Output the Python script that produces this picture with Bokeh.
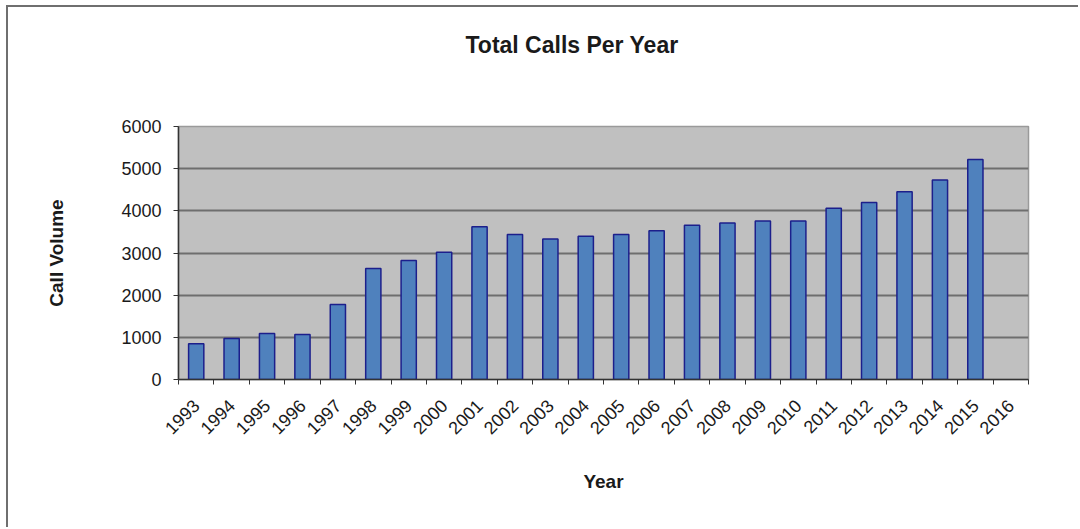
from math import pi
from bokeh.plotting import figure
from bokeh.models import Range1d, FixedTicker, ColumnDataSource
from bokeh.embed import file_html
from bokeh.resources import INLINE

years = [str(y) for y in range(1993, 2017)]
calls = [850, 970, 1090, 1070, 1780, 2630, 2820, 3020, 3620, 3440, 3330, 3400,
         3440, 3530, 3660, 3710, 3760, 3760, 4060, 4200, 4450, 4730, 5220]
y_ticks = [0, 1000, 2000, 3000, 4000, 5000, 6000]
title_text = "Total Calls Per Year"

TEXT = "#1a1a1a"
FONT = "Liberation Sans"

pos = list(range(len(years)))
src = ColumnDataSource(dict(x=pos[:len(calls)], year=years[:len(calls)], calls=calls))

p = figure(width=1072, height=522,
           x_range=Range1d(-0.5, len(years) - 0.5), y_range=Range1d(0, 6000),
           output_backend="svg", toolbar_location=None,
           min_border_left=170, min_border_right=52,
           min_border_top=119, min_border_bottom=150)
p.styles = {"margin-left": "6px", "margin-top": "5px",
            "border-left": "2px solid #6f6f6f", "border-top": "2px solid #6f6f6f"}

p.background_fill_color = "#c0c0c0"
p.border_fill_color = "white"
p.outline_line_color = "#9a9a9a"
p.outline_line_width = 1.5

p.vbar(x="x", top="calls", width=0.43, bottom=0, source=src,
       fill_color="#4f81bd", line_color="#1c1f8c", line_width=1.5)

# Title (trailing blank lines lift it well above the plot area)
p.title.text = title_text + "\n\n"
p.title.align = "left"
p.title.offset = 287
p.title.text_font = FONT
p.title.text_font_size = "23px"
p.title.text_font_style = "bold"
p.title.text_color = TEXT
p.title.standoff = 34

# y axis
ya = p.yaxis[0]
ya.ticker = FixedTicker(ticks=y_ticks)
ya.axis_label = "Call Volume"
ya.axis_label_text_font = FONT
ya.axis_label_text_font_size = "19px"
ya.axis_label_text_font_style = "bold"
ya.axis_label_text_color = TEXT
ya.axis_label_standoff = 51
ya.major_label_text_font = FONT
ya.major_label_text_font_size = "18px"
ya.major_label_text_color = TEXT
ya.major_label_standoff = 12
ya.major_tick_out = 5
ya.major_tick_in = 0
ya.minor_tick_out = 0
ya.minor_tick_in = 0
ya.axis_line_color = "#333333"
ya.axis_line_width = 1.5
ya.major_tick_line_color = "#333333"

# x axis: labels at category centres, ticks between categories
xa = p.xaxis[0]
xa.ticker = FixedTicker(ticks=pos, minor_ticks=[i - 0.5 for i in range(len(years) + 1)])
xa.major_label_overrides = {i: y for i, y in enumerate(years)}
xa.major_label_orientation = pi / 4
xa.major_tick_out = 0
xa.major_tick_in = 0
xa.minor_tick_out = 5
xa.minor_tick_in = 0
xa.minor_tick_line_color = "#333333"
xa.axis_line_color = "#333333"
xa.axis_line_width = 1.5
xa.major_label_text_font = FONT
xa.major_label_text_font_size = "18px"
xa.major_label_text_color = TEXT
xa.major_label_standoff = 18
xa.axis_label = "Year"
xa.axis_label_text_font = FONT
xa.axis_label_text_font_size = "19px"
xa.axis_label_text_font_style = "bold"
xa.axis_label_text_color = TEXT
xa.axis_label_standoff = 28

p.xgrid.visible = False
p.ygrid.grid_line_color = "#6e6e6e"
p.ygrid.grid_line_width = 2
p.ygrid.ticker = FixedTicker(ticks=y_ticks)

open("out.html", "w").write(file_html(p, INLINE))
